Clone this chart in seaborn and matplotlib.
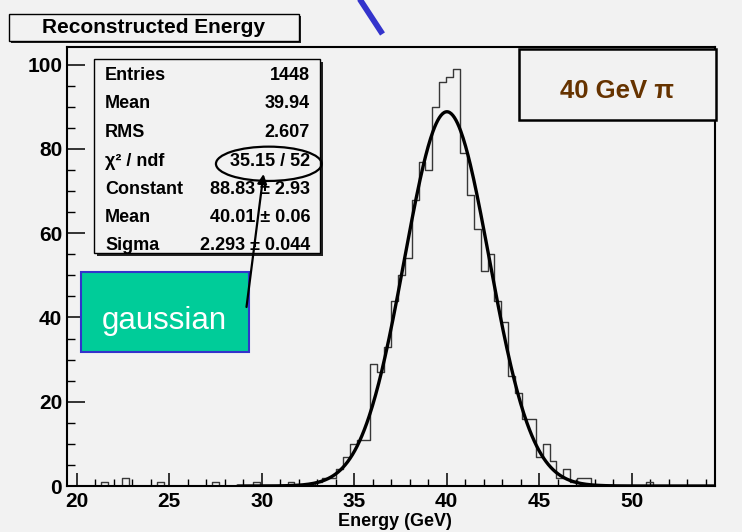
import numpy as np
import pandas as pd
import matplotlib
matplotlib.use("Agg")
import matplotlib.pyplot as plt
from matplotlib.patches import Rectangle, Ellipse
from matplotlib.ticker import MultipleLocator
import seaborn as sns

# ---- histogram binning and bin contents -------------------------------
bin_lo = 19.476
bin_hi = 54.50
n_bins = 94
counts = [
    0, 0, 0, 0, 0, 1, 0, 0, 2, 0,      # 0-9
    0, 0, 0, 1, 0, 0, 0, 0, 0, 0,      # 10-19
    0, 1, 0, 0, 0, 0, 0, 1, 0, 0,      # 20-29
    0, 0, 1, 0, 0, 0, 1, 2, 2, 4,      # 30-39
    7, 10, 11, 11, 29, 27, 33, 44, 50, 54,   # 40-49
    68, 77, 75, 90, 96, 97, 99, 79, 69, 61,  # 50-59
    51, 55, 44, 39, 26, 22, 16, 16, 7, 10,   # 60-69
    6, 2, 4, 1, 2, 2, 0, 0, 0, 0,      # 70-79
    0, 0, 0, 0, 1, 0, 0, 0, 0, 0,      # 80-89
    0, 0, 0, 0,                        # 90-93
]

# ---- gaussian fit result ----------------------------------------------
fit_constant = 88.83
fit_mean = 40.01
fit_sigma = 2.293
fit_lo, fit_hi = 28.7, 54.5

# ---- statistics box ---------------------------------------------------
stat_names = ["Entries", "Mean", "RMS", "\u03c7\u00b2 / ndf", "Constant", "Mean", "Sigma"]
stat_values = ["1448", "39.94", "2.607", "35.15 / 52", "88.83 \u00b1 2.93",
               "40.01 \u00b1 0.06", "2.293 \u00b1 0.044"]

x_ticks = [20, 25, 30, 35, 40, 45, 50]
y_ticks = [0, 20, 40, 60, 80, 100]

title_text = "Reconstructed Energy"
x_title = "Energy (GeV)"
beam_text = "40 GeV \u03c0"
fit_tag = "gaussian"

# ---------------------------------------------------------------------
sns.set_theme(style="ticks")
plt.rcParams["font.family"] = ["Liberation Sans", "DejaVu Sans"]
plt.rcParams["text.color"] = "black"
plt.rcParams["axes.labelcolor"] = "black"
plt.rcParams["xtick.color"] = "black"
plt.rcParams["ytick.color"] = "black"

BG = "#f2f2f2"
W, H = 742, 532
fig = plt.figure(figsize=(W / 100, H / 100), dpi=100, facecolor=BG)

# main frame in pixel coordinates: left 67, right 715, top 47, bottom 486
ax = fig.add_axes([67 / W, (H - 486) / H, (715 - 67) / W, (486 - 47) / H])
ax.set_facecolor(BG)

edges = np.linspace(bin_lo, bin_hi, n_bins + 1)
centers = 0.5 * (edges[:-1] + edges[1:])
hist_df = pd.DataFrame({"energy": centers, "entries": np.asarray(counts, dtype=float)})
sns.histplot(data=hist_df, x="energy", weights="entries", bins=n_bins,
             binrange=(bin_lo, bin_hi), element="step", fill=False,
             color="#383838", linewidth=1.0, ax=ax)

xs = np.linspace(fit_lo, fit_hi, 600)
curve_df = pd.DataFrame({
    "energy": xs,
    "fit": fit_constant * np.exp(-0.5 * ((xs - fit_mean) / fit_sigma) ** 2),
})
sns.lineplot(data=curve_df, x="energy", y="fit", color="black", linewidth=2.4, ax=ax)

ax.set_xlim(bin_lo, bin_hi)
ax.set_ylim(0, 104.2)
ax.set_xticks(x_ticks)
ax.set_yticks(y_ticks)
ax.xaxis.set_minor_locator(MultipleLocator(1))
ax.yaxis.set_minor_locator(MultipleLocator(5))
ax.tick_params(axis="x", which="major", direction="in", length=9.5, width=1.1,
               labelsize=15, pad=4.0, colors="black")
ax.tick_params(axis="x", which="minor", direction="in", length=5, width=1.0)
ax.tick_params(axis="y", which="major", direction="in", length=13, width=1.1,
               labelsize=15, pad=3.5, colors="black")
ax.tick_params(axis="y", which="minor", direction="in", length=6, width=1.0)
for lab in ax.get_xticklabels() + ax.get_yticklabels():
    lab.set_fontweight("bold")
for sp in ax.spines.values():
    sp.set_linewidth(1.5)
    sp.set_color("black")
ax.set_ylabel("")
ax.set_xlabel(x_title, fontsize=13, fontweight="bold", color="black")
ax.xaxis.set_label_coords((395 - 67) / 648, (486 - 521) / 439)
ax.xaxis.label.set_verticalalignment("center")

# ---- overlay drawn in pixel coordinates -----------------------------
ov = fig.add_axes([0, 0, 1, 1])
ov.set_xlim(0, W)
ov.set_ylim(H, 0)
ov.set_axis_off()

# pointer line at the top
ov.plot([359, 382.5], [-2, 34], color="#3434cc", linewidth=4.2, solid_capstyle="butt")

# title box with shadow
ov.add_patch(Rectangle((10.5, 15.5), 290, 27, facecolor="#222222", edgecolor="none"))
ov.add_patch(Rectangle((8.5, 13.5), 290, 27, facecolor=BG, edgecolor="black", linewidth=1.0))
ov.text(153.5, 27.5, title_text, ha="center", va="center", fontsize=15,
        fontweight="bold", color="black")

# statistics box with shadow
ov.add_patch(Rectangle((97, 62), 226, 194, facecolor="#222222", edgecolor="none"))
ov.add_patch(Rectangle((94, 59), 226, 194, facecolor=BG, edgecolor="black", linewidth=1.0))
row_y = [76, 104, 132.5, 161, 190, 218, 245]
for name, val, yy in zip(stat_names, stat_values, row_y):
    ov.text(105, yy, name, ha="left", va="center", fontsize=13,
            fontweight="bold", color="black")
    ov.text(310, yy, val, ha="right", va="center", fontsize=13,
            fontweight="bold", color="black")

# beam label box
ov.add_patch(Rectangle((519, 49), 197, 71, facecolor=BG, edgecolor="black", linewidth=1.8))
ov.text(617.5, 91, beam_text, ha="center", va="center", fontsize=18.5,
        fontweight="bold", color="#663300")

# fit tag box, ellipse and arrow
ov.add_patch(Rectangle((80.7, 271.7), 168.6, 80, facecolor="#00cc99",
                       edgecolor="#3333cc", linewidth=1.5))
ov.text(164.5, 321, fit_tag, ha="center", va="center", fontsize=22.5, color="white")
ov.add_patch(Ellipse((268.8, 163.8), 105.7, 34.3, facecolor="none",
                     edgecolor="black", linewidth=1.6))
ov.annotate("", xy=(263.5, 174), xytext=(246.5, 307),
            arrowprops=dict(arrowstyle="-|>", color="black", lw=1.6,
                            mutation_scale=14, shrinkA=0, shrinkB=0))

fig.savefig("out.png", dpi=100, facecolor=BG)
